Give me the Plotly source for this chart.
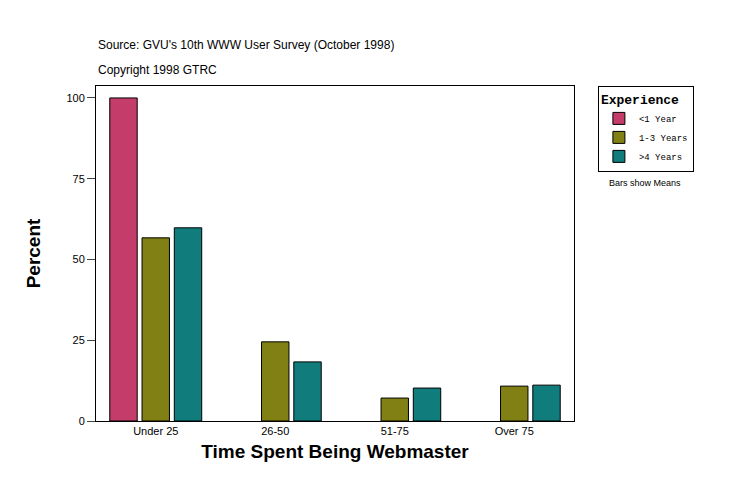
import plotly.graph_objects as go

categories = ["Under 25", "26-50", "51-75", "Over 75"]
lt1 = [100, None, None, None]
y1_3 = [56.7, 24.5, 7.1, 10.8]
gt4 = [59.8, 18.3, 10.2, 11.1]
series = [("<1 Year", lt1, "#C43C6A"), ("1-3 Years", y1_3, "#808014"), (">4 Years", gt4, "#107C7C")]

fig = go.Figure()
for name, vals, col in series:
    fig.add_trace(go.Bar(x=categories, y=vals, name=name, marker=dict(color=col, line=dict(color="black", width=1))))

fig.update_layout(
    width=741, height=496, margin=dict(l=88, r=175, t=78, b=83, autoexpand=False),
    paper_bgcolor="white", plot_bgcolor="white",
    barmode="group", bargap=0.19, bargroupgap=0.15,
    font=dict(family="Liberation Sans", size=11, color="black"),
    showlegend=True,
    legend=dict(x=1.05, y=1.0, xanchor="left", yanchor="top", bordercolor="black", borderwidth=1,
                font=dict(family="Liberation Mono", size=9),
                title=dict(text="<b>Experience</b>", font=dict(family="Liberation Mono", size=13)),
                itemwidth=30, tracegroupgap=0, tracegroupgap_=None) if False else
           dict(x=1.05, y=1.0, xanchor="left", yanchor="top", bordercolor="black", borderwidth=1,
                font=dict(family="Liberation Mono", size=9),
                title=dict(text="<b>Experience</b>", font=dict(family="Liberation Mono", size=13)),
                itemwidth=30, tracegroupgap=0),
    xaxis=dict(showline=True, linecolor="black", mirror=True, ticks="", tickfont=dict(size=11), automargin=False,
               title=dict(text="<b>Time Spent Being Webmaster</b>", font=dict(size=19), standoff=8)),
    yaxis=dict(range=[0, 103.7], tickvals=[0, 25, 50, 75, 100], showline=True, linecolor="black", mirror=True,
               ticks="outside", ticklen=8, showgrid=False, zeroline=False, tickfont=dict(size=11), automargin=False,
               title=dict(text="<b>Percent</b>", font=dict(size=19), standoff=20)),
    annotations=[
        dict(text="Source: GVU's 10th WWW User Survey (October 1998)", x=0, y=1.095, xref="paper", yref="paper", xanchor="left", yanchor="bottom", showarrow=False, font=dict(size=12)),
        dict(text="Copyright 1998 GTRC", x=0, y=1.02, xref="paper", yref="paper", xanchor="left", yanchor="bottom", showarrow=False, font=dict(size=12)),
        dict(text="Bars show Means", x=1.07, y=0.71, xref="paper", yref="paper", xanchor="left", yanchor="middle", showarrow=False, font=dict(size=9)),
    ],
)
fig.write_html("out.html")
